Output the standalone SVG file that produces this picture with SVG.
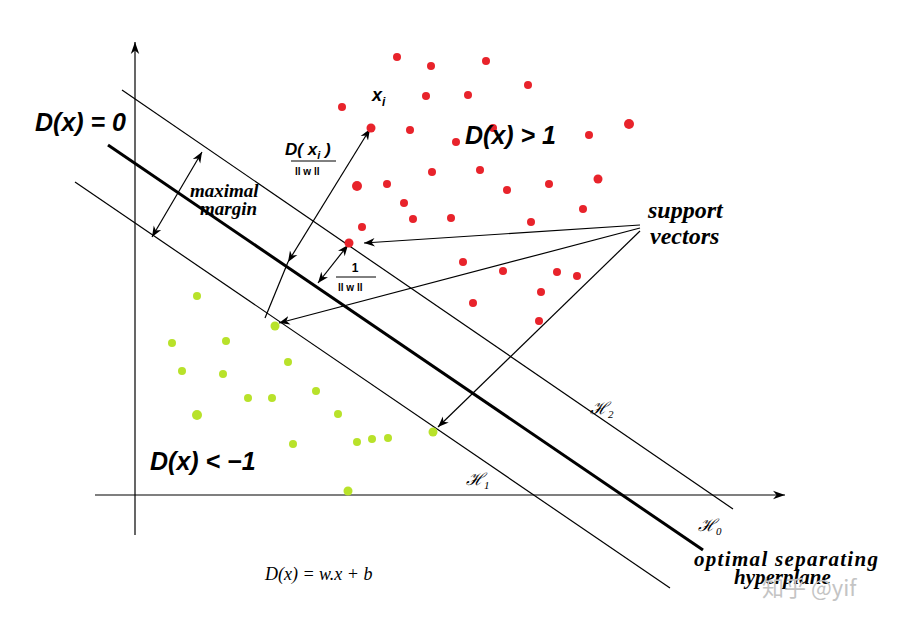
<svg xmlns="http://www.w3.org/2000/svg" width="908" height="626" viewBox="0 0 908 626">
<style>
.l{stroke:#000;stroke-width:1.2;fill:none}
.r{fill:#e8232b}.g{fill:#b8e22a}
.b{font-family:"Liberation Serif",serif;font-weight:bold;font-style:italic;fill:#000}
.s{font-family:"Liberation Sans",sans-serif;font-weight:bold;fill:#000}
.m{font-family:"Liberation Serif",serif;font-style:italic;fill:#000}
</style>
<defs>
<marker id="a" viewBox="0 0 10 10" refX="10" refY="5" markerWidth="9" markerHeight="9" orient="auto-start-reverse"><path d="M0,1L10,5L0,9L3,5z" fill="#000"/></marker>
<marker id="A" viewBox="0 0 10 10" refX="10" refY="5" markerWidth="14" markerHeight="10" orient="auto"><path d="M0,1.5L10,5L0,8.5L3,5z" fill="#000"/></marker>
</defs>
<rect width="908" height="626" fill="#fff"/>
<g id="connectors">
<line class="l" x1="135" y1="535" x2="135" y2="42" marker-end="url(#A)"/>
<line class="l" x1="95" y1="495" x2="785" y2="495" marker-end="url(#A)"/>
<line class="l" x1="122" y1="90" x2="733" y2="509"/>
<line x1="108" y1="145" x2="703" y2="550" stroke="#000" stroke-width="3"/>
<line class="l" x1="75" y1="182" x2="670" y2="588"/>
<line class="l" x1="152" y1="237" x2="202" y2="152" marker-start="url(#a)" marker-end="url(#a)"/>
<line class="l" x1="265" y1="318" x2="288" y2="262"/>
<line class="l" x1="288" y1="262" x2="370" y2="129" marker-start="url(#a)" marker-end="url(#a)"/>
<line class="l" x1="318" y1="283" x2="348" y2="245" marker-start="url(#a)" marker-end="url(#a)"/>
<line class="l" x1="640" y1="225" x2="364" y2="243" marker-end="url(#a)"/>
<line class="l" x1="640" y1="228" x2="279" y2="323" marker-end="url(#a)"/>
<line class="l" x1="640" y1="231" x2="438" y2="427" marker-end="url(#a)"/>
</g>
<g id="red-points">
<circle class="r" cx="397" cy="57" r="4"/><circle class="r" cx="431" cy="66" r="4"/><circle class="r" cx="486" cy="61" r="4"/><circle class="r" cx="342" cy="107" r="4"/><circle class="r" cx="426" cy="96" r="4"/><circle class="r" cx="468" cy="95" r="4"/><circle class="r" cx="528" cy="85" r="4"/><circle class="r" cx="371" cy="128" r="4.5"/><circle class="r" cx="410" cy="130" r="4"/><circle class="r" cx="456" cy="142" r="4"/><circle class="r" cx="493" cy="128" r="4"/><circle class="r" cx="589" cy="135" r="4"/><circle class="r" cx="629" cy="124" r="5"/><circle class="r" cx="357" cy="186" r="5"/><circle class="r" cx="387" cy="184" r="4"/><circle class="r" cx="432" cy="172" r="4"/><circle class="r" cx="480" cy="170" r="4"/><circle class="r" cx="507" cy="190" r="4"/><circle class="r" cx="549" cy="184" r="4"/><circle class="r" cx="598" cy="179" r="4.5"/><circle class="r" cx="404" cy="203" r="4"/><circle class="r" cx="413" cy="219" r="4"/><circle class="r" cx="451" cy="218" r="4"/><circle class="r" cx="531" cy="222" r="4"/><circle class="r" cx="583" cy="209" r="4"/><circle class="r" cx="362" cy="227" r="4"/><circle class="r" cx="349" cy="243" r="4.5"/><circle class="r" cx="463" cy="262" r="4"/><circle class="r" cx="503" cy="271" r="4"/><circle class="r" cx="557" cy="272" r="4"/><circle class="r" cx="577" cy="276" r="4"/><circle class="r" cx="541" cy="292" r="4"/><circle class="r" cx="473" cy="303" r="4"/><circle class="r" cx="539" cy="321" r="4"/>
</g>
<g id="green-points">
<circle class="g" cx="197" cy="296" r="4"/><circle class="g" cx="275" cy="326" r="4.5"/><circle class="g" cx="172" cy="343" r="4"/><circle class="g" cx="226" cy="341" r="4"/><circle class="g" cx="182" cy="371" r="4"/><circle class="g" cx="223" cy="374" r="4"/><circle class="g" cx="288" cy="362" r="4"/><circle class="g" cx="248" cy="398" r="4"/><circle class="g" cx="272" cy="398" r="4"/><circle class="g" cx="316" cy="391" r="4"/><circle class="g" cx="197" cy="415" r="5"/><circle class="g" cx="338" cy="414" r="4"/><circle class="g" cx="293" cy="444" r="4"/><circle class="g" cx="357" cy="442" r="4"/><circle class="g" cx="372" cy="439" r="4"/><circle class="g" cx="388" cy="438" r="4"/><circle class="g" cx="433" cy="432" r="4.5"/><circle class="g" cx="348" cy="491" r="4.5"/>
</g>
<g id="labels">
<text class="s" x="35" y="131" font-size="25" font-style="italic">D(x) = 0</text>
<text class="s" x="465" y="144" font-size="25" font-style="italic">D(x) &gt; 1</text>
<text class="s" x="150" y="470" font-size="25" font-style="italic">D(x) &lt; −1</text>
<text class="b" x="648" y="218" font-size="24">support</text>
<text class="b" x="650" y="244" font-size="24">vectors</text>
<text class="b" x="190" y="197" font-size="19">maximal</text>
<text class="b" x="200" y="215" font-size="19">margin</text>
<text class="s" x="372" y="101" font-size="18" font-style="italic">x<tspan font-size="12" dy="5">i</tspan></text>
<text class="s" x="285" y="155" font-size="17" font-style="italic">D( x<tspan font-size="11" dy="4">i</tspan><tspan dy="-4">  )</tspan></text>
<line x1="291" y1="161" x2="336" y2="161" stroke="#000" stroke-width="1"/>
<text class="s" x="295" y="175" font-size="10">ll w ll</text>
<text class="s" x="355" y="272" font-size="12" text-anchor="middle">1</text>
<line x1="336" y1="277" x2="376" y2="277" stroke="#000" stroke-width="1"/>
<text class="s" x="338" y="291" font-size="10">ll w ll</text>
<text class="m" x="590" y="414" font-size="17">ℋ<tspan font-size="11" dy="4">2</tspan></text>
<text class="m" x="466" y="485" font-size="17">ℋ<tspan font-size="11" dy="4">1</tspan></text>
<text class="m" x="698" y="531" font-size="17">ℋ<tspan font-size="11" dy="4">0</tspan></text>
<text class="b" x="694" y="566" font-size="21" textLength="184">optimal separating</text>
<text class="b" x="734" y="584" font-size="21">hyperplane</text>
<text class="m" x="265" y="580" font-size="18">D(x) = w.x + b</text>
<text x="762" y="596" font-size="22" fill="#c4c4c4" font-family="'Noto Sans CJK SC',sans-serif">知乎 @yif</text>
</g>
</svg>
